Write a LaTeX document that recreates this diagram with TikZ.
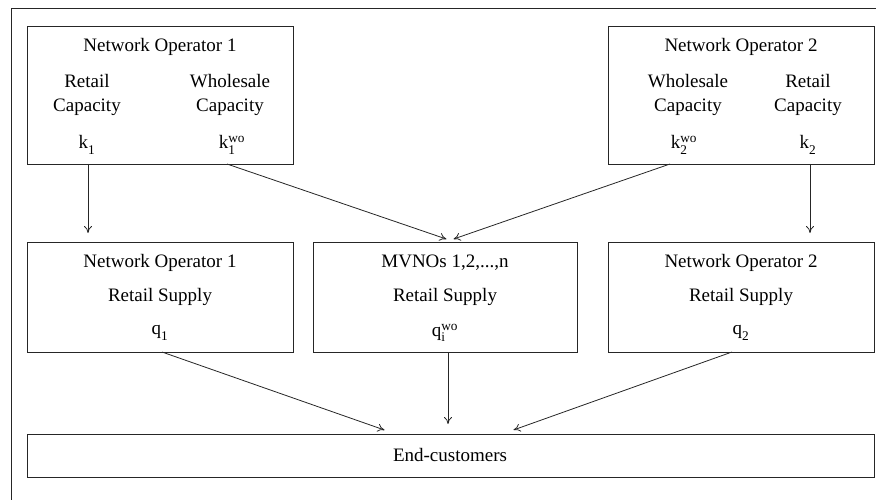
\documentclass[tikz,border=0pt]{standalone}
\usepackage{fontspec}
\usepackage{amsmath}
\setmainfont{Liberation Serif}
\usetikzlibrary{arrows.meta,calc}

\newcommand{\kvar}[2]{k\ensuremath{_{\text{#1}}^{\text{#2}}}}
\newcommand{\qvar}[2]{q\ensuremath{_{\text{#1}}^{\text{#2}}}}

\begin{document}
\begin{tikzpicture}[x=1pt,y=-1pt,
  font=\fontsize{19}{23}\selectfont,
  frameline/.style={line width=0.8pt,black!85},
  boxline/.style={draw=black!85,line width=0.8pt},
  label/.style={inner sep=0pt,anchor=center,align=center},
  flow/.style={-{To[length=7pt,width=8pt]},line width=0.8pt,black!85,shorten >=9pt}]

  % page extent
  \useasboundingbox (0,0) rectangle (876,500);

  % outer frame (top and left edges only)
  \coordinate (frameTL) at (11,8);
  \coordinate (frameTR) at (876,8);
  \coordinate (frameBL) at (11,500);
  \draw[frameline] (frameBL) -- (frameTL) -- (frameTR);

  % ---- capacity boxes ----
  \draw[boxline] (27,26) rectangle (293,164);
  \node[label] (cap1title) at (160,47) {Network Operator 1};
  \node[label] (cap1retail) at (87,95) {Retail\\[1pt]Capacity};
  \node[label] (cap1whole) at (230,95) {Wholesale\\[1pt]Capacity};
  \node[label] (k1) at (87,145) {\kvar{1}{}};
  \node[label] (k1wo) at (232,145) {\kvar{1}{wo}};

  \draw[boxline] (608,26) rectangle (874,164);
  \node[label] (cap2title) at (741,47) {Network Operator 2};
  \node[label] (cap2whole) at (688,95) {Wholesale\\[1pt]Capacity};
  \node[label] (cap2retail) at (808,95) {Retail\\[1pt]Capacity};
  \node[label] (k2wo) at (684,145) {\kvar{2}{wo}};
  \node[label] (k2) at (808,145) {\kvar{2}{}};

  % ---- retail supply boxes ----
  \draw[boxline] (27,242) rectangle (293,352);
  \node[label] (sup1title) at (160,263) {Network Operator 1};
  \node[label] (sup1sub) at (160,297) {Retail Supply};
  \node[label] (q1) at (160,333) {\qvar{1}{}};

  \draw[boxline] (313,242) rectangle (577,352);
  \node[label] (mvnotitle) at (445,263) {MVNOs 1,2,...,n};
  \node[label] (mvnosub) at (445,297) {Retail Supply};
  \node[label] (qi) at (445,333) {\qvar{i}{wo}};

  \draw[boxline] (608,242) rectangle (874,352);
  \node[label] (sup2title) at (741,263) {Network Operator 2};
  \node[label] (sup2sub) at (741,297) {Retail Supply};
  \node[label] (q2) at (741,333) {\qvar{2}{}};

  % ---- end customers ----
  \draw[boxline] (27,434) rectangle (874,477);
  \node[label] (endc) at (450,455) {End-customers};

  % connector anchors on box edges
  \coordinate (c1out)  at (88,164);
  \coordinate (w1out)  at (227,164);
  \coordinate (w2out)  at (670,164);
  \coordinate (c2out)  at (810,164);
  \coordinate (s1in)   at (88,242);
  \coordinate (mvinL)  at (455,242);
  \coordinate (mvinR)  at (445,242);
  \coordinate (s2in)   at (810,242);
  \coordinate (s1out)  at (162,352);
  \coordinate (mvout)  at (448,352);
  \coordinate (s2out)  at (732,352);
  \coordinate (ecinL)  at (393,433);
  \coordinate (ecinM)  at (448,433);
  \coordinate (ecinR)  at (505,433);

  % ---- flows ----
  \draw[flow] (c1out) -- (s1in);
  \draw[flow] (w1out) -- (mvinL);
  \draw[flow] (w2out) -- (mvinR);
  \draw[flow] (c2out) -- (s2in);
  \draw[flow] (s1out) -- (ecinL);
  \draw[flow] (mvout) -- (ecinM);
  \draw[flow] (s2out) -- (ecinR);
\end{tikzpicture}
\end{document}
